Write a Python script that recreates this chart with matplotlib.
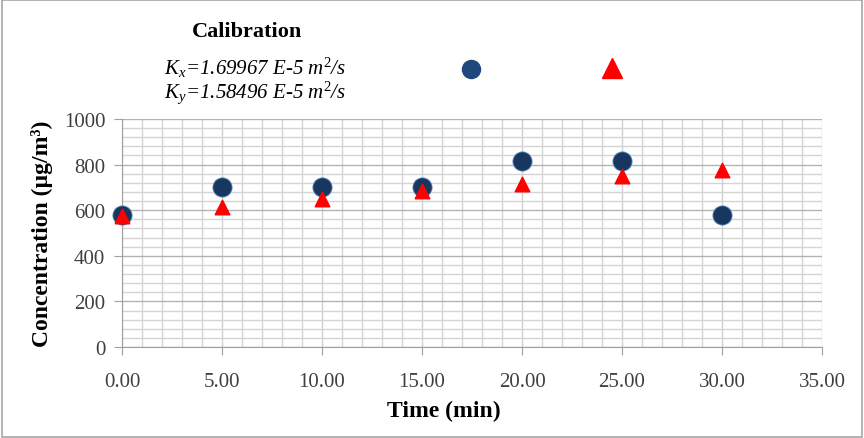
import matplotlib
matplotlib.use("Agg")
import matplotlib.pyplot as plt
from matplotlib.ticker import MultipleLocator, FormatStrFormatter
from matplotlib.patches import Rectangle

plt.rcParams['font.family'] = 'Liberation Serif'
plt.rcParams['mathtext.fontset'] = 'custom'
plt.rcParams['mathtext.rm'] = 'Liberation Serif'
plt.rcParams['mathtext.it'] = 'Liberation Serif:italic'

# data
time_min = [0, 5, 10, 15, 20, 25, 30]
measured = [580, 700, 700, 700, 815, 815, 580]
model = [575, 613, 648, 683, 715, 750, 776]

x_ticks = [0, 5, 10, 15, 20, 25, 30, 35]
y_ticks = [0, 200, 400, 600, 800, 1000]

fig = plt.figure(figsize=(8.64, 4.39), dpi=100)
fig.patches.append(Rectangle((0.002, 0.002), 0.996, 0.996, transform=fig.transFigure,
                             fill=False, edgecolor='#a6a6a6', linewidth=1.2))
ax = fig.add_axes([0.1412, 0.2073, 0.8102, 0.5194])

ax.set_xlim(0, 35)
ax.set_ylim(0, 1000)
ax.set_xticks(x_ticks)
ax.set_yticks(y_ticks)
ax.xaxis.set_major_formatter(FormatStrFormatter('%.2f'))
ax.xaxis.set_minor_locator(MultipleLocator(1))
ax.yaxis.set_minor_locator(MultipleLocator(40))
ax.grid(which='major', axis='y', color='#b3b3b3', linewidth=1.0)
ax.grid(which='major', axis='x', color='#d0d0d0', linewidth=1.0)
ax.grid(which='minor', color='#d4d4d4', linewidth=1.0)
ax.set_axisbelow(True)
for s in ['top', 'right']:
    ax.spines[s].set_visible(False)
for s in ['left', 'bottom']:
    ax.spines[s].set_color('#a0a0a0')
ax.tick_params(which='major', direction='out', length=6, color='#a0a0a0',
               labelsize=15, labelcolor='#404040')
ax.tick_params(axis='x', pad=12)
ax.tick_params(axis='y', pad=6)
ax.tick_params(which='minor', length=0)

ax.scatter(time_min, measured, s=190, marker='o', color='#17375e',
           edgecolors='#4f81bd', linewidths=0.6, zorder=3, clip_on=False)
ax.scatter(time_min, model, s=110, marker='^', color='#ff0000', zorder=4, clip_on=False)

ax.set_ylabel('Concentration (µg/m³)', fontsize=17, fontweight='bold', labelpad=8)
fig.text(0.514, 0.062, 'Time (min)', fontsize=17, fontweight='bold', ha='center', va='center')

fig.text(0.286, 0.927, 'Calibration', fontsize=16, fontweight='bold', ha='center', va='center')
fig.text(0.19, 0.845, 'K$_x$=1.69967 E-5 m$^2$/s', fontsize=15, style='italic', ha='left', va='center')
fig.text(0.19, 0.79, 'K$_y$=1.58496 E-5 m$^2$/s', fontsize=15, style='italic', ha='left', va='center')

# legend markers without labels
fig.add_artist(plt.Line2D([0.545], [0.84], marker='o', markersize=13, color='#1f497d',
                          transform=fig.transFigure))
fig.add_artist(plt.Line2D([0.708], [0.843], marker='^', markersize=14, color='#ff0000',
                          transform=fig.transFigure))

fig.savefig('out.png', dpi=100)
